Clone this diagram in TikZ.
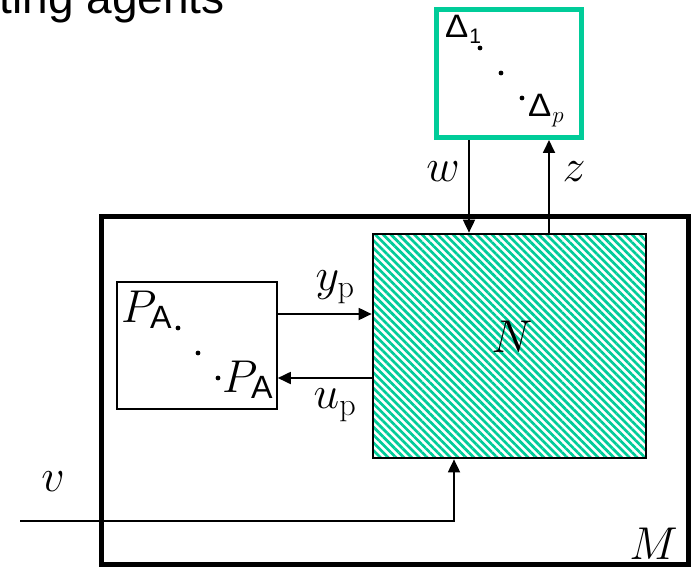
\RequirePackage{fix-cm}
\documentclass[tikz,border=0pt]{standalone}
\usepackage{fontspec}
\setsansfont{Liberation Sans}
\usetikzlibrary{arrows.meta,patterns.meta}
\definecolor{tealg}{RGB}{0,204,153}
\begin{document}
\begin{tikzpicture}[x=1pt,y=-1pt,
  lbl/.style={font=\fontsize{46}{50}\selectfont, inner sep=0pt},
  box/.style={draw, inner sep=0pt},
  dlbl/.style={inner sep=0pt, anchor=base west, font=\fontsize{24}{28}\selectfont\sffamily},
  arr/.style={line width=1.8pt, -{Triangle[length=13pt,width=12pt]}},
  dot/.style={fill=black}]
\useasboundingbox (0,0) rectangle (691,567);
% title fragment
\node[font=\fontsize{46}{50}\selectfont\sffamily, anchor=base east, inner sep=0pt] (title) at (225,14) {ting agents};
% boxes
\node[box, draw=tealg, line width=5pt, minimum width=145pt, minimum height=128pt] (D) at (509,73.5) {};
\node[box, line width=5pt, minimum width=587pt, minimum height=348pt] (M) at (394.5,390) {};
\node[box, line width=2pt, pattern={Lines[angle=-45,distance=5.5pt,line width=2.7pt]}, pattern color=tealg, minimum width=273pt, minimum height=224pt] (N) at (509.5,346) {};
\node[box, fill=white, line width=1.6pt, minimum width=160pt, minimum height=127pt] (P) at (197,345.5) {};
% inner labels
\node[lbl] (Nl) at (512,337) {$N$};
\node[lbl, anchor=base east] (Ml) at (678,559) {$M$};
\node[lbl, anchor=base west] (PA1) at (121,322) {$P_{\mathsf{A}}$};
\node[lbl, anchor=base west] (PA2) at (222,392) {$P_{\mathsf{A}}$};
\node[dlbl] (D1) at (445,38) {\scalebox{1.45}[1.35]{Δ}\kern1pt\raisebox{-6pt}{\fontsize{21}{22}\selectfont 1}};
\node[dlbl] (Dp) at (528,117) {\scalebox{1.45}[1.35]{Δ}\kern1pt\raisebox{-6pt}{\fontsize{23}{22}\selectfont$p$}};
% dots
\fill[dot] (178,328) circle (2.4pt) (198,353) circle (2.4pt) (218,378) circle (2.4pt);
\fill[dot] (480,48) circle (2.4pt) (501,73) circle (2.4pt) (522,98) circle (2.4pt);
% connectors
\coordinate (wx) at (469,0);
\coordinate (zx) at (549,0);
\coordinate (vx) at (454,0);
\coordinate (vstart) at (20,521);
\coordinate (vcorner) at (454,521);
\coordinate (yy) at (0,314);
\coordinate (uy) at (0,378);
\draw[arr] (wx |- D.south) -- (wx |- N.north);
\draw[arr] (zx |- N.north) -- (zx |- D.south);
\draw[arr] (P.east |- yy) -- (N.west |- yy);
\draw[arr] (N.west |- uy) -- (P.east |- uy);
\draw[arr] (vstart) -- (vcorner) -- (vx |- N.south);
% connector labels
\node[lbl] (wl) at (443,172) {$w$};
\node[lbl] (zl) at (574,172) {$z$};
\node[lbl] (yl) at (335,287) {$y_{\mathrm{p}}$};
\node[lbl] (ul) at (335,405) {$u_{\mathrm{p}}$};
\node[lbl] (vl) at (53,482) {$v$};
\end{tikzpicture}
\end{document}
